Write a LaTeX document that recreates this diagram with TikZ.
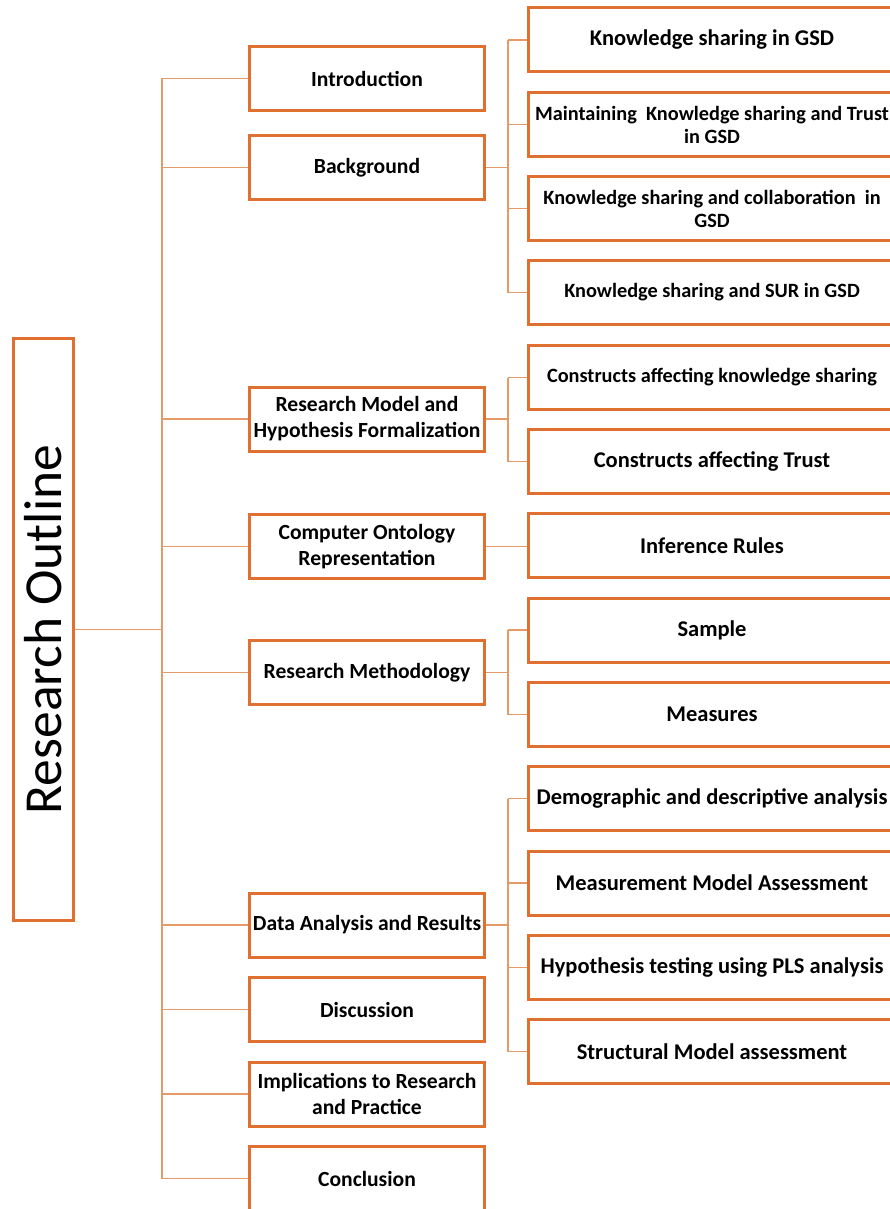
\documentclass[tikz,border=0pt]{standalone}
\usepackage{fontspec}
\setmainfont{Carlito}
\definecolor{boxc}{HTML}{E0702F}
\definecolor{linec}{HTML}{E69A68}
\begin{document}
\begin{tikzpicture}[x=1pt,y=-1pt,
  lone/.style={draw=boxc,line width=3pt,minimum width=235pt,minimum height=64pt,inner sep=0pt,align=center,font=\fontsize{21.6}{26}\selectfont\bfseries},
  ltwo/.style={lone,minimum width=367pt,font=\fontsize{22.5}{26}\selectfont\bfseries},
  small/.style={font=\fontsize{20.3}{23}\selectfont\bfseries},
  conn/.style={draw=linec,line width=1.5pt}]
\useasboundingbox (0,0) rectangle (889,1209);
% root
\node[draw=boxc,line width=3pt,minimum width=60pt,minimum height=582pt,inner sep=0pt,font=\fontsize{53.5}{60}\selectfont] (root) at (43.5,629.5) {\rotatebox{90}{Research Outline}};
% level 1
\node[lone] (intro) at (367,78.5) {Introduction};
\node[lone] (bg) at (367,167.5) {Background};
\node[lone] (rm) at (367,419) {Research Model and\\Hypothesis Formalization};
\node[lone] (co) at (367,546.5) {Computer Ontology\\Representation};
\node[lone] (meth) at (367,672.5) {Research Methodology};
\node[lone] (da) at (367,925) {Data Analysis and Results};
\node[lone] (disc) at (367,1009.5) {Discussion};
\node[lone] (impl) at (367,1094) {Implications to Research\\and Practice};
\node[lone] (concl) at (367,1178.5) {Conclusion};
% level 2
\node[ltwo] (k1) at (712,40) {Knowledge sharing in GSD};
\node[ltwo,small] (k2) at (712,124.5) {Maintaining\ \ Knowledge sharing and Trust\\in GSD};
\node[ltwo,small] (k3) at (712,208.5) {Knowledge sharing and collaboration\ \ in\\GSD};
\node[ltwo,small] (k4) at (712,292.5) {Knowledge sharing and SUR in GSD};
\node[ltwo,small] (c1) at (712,377.5) {Constructs affecting knowledge sharing};
\node[ltwo] (c2) at (712,461.5) {Constructs affecting Trust};
\node[ltwo] (inf) at (712,545.5) {Inference Rules};
\node[ltwo] (s1) at (712,630) {Sample};
\node[ltwo] (s2) at (712,714.5) {Measures};
\node[ltwo] (d1) at (712,798.5) {Demographic and descriptive analysis};
\node[ltwo] (d2) at (712,883) {Measurement Model Assessment};
\node[ltwo] (d3) at (712,967.5) {Hypothesis testing using PLS analysis};
\node[ltwo] (d4) at (712,1051.5) {Structural Model assessment};
% connectors
\coordinate (tk) at (162,0);
\coordinate (br) at (508,0);
\draw[conn] (root.east) -- (root.east -| tk);
\draw[conn] (intro.west -| tk) -- (concl.west -| tk);
\foreach \n in {intro,bg,rm,co,meth,da,disc,impl,concl}
  \draw[conn] (\n.west -| tk) -- (\n.west);
% Background bracket
\draw[conn] (bg.east) -- (bg.east -| br);
\draw[conn] (k1.west -| br) -- (k4.west -| br);
\foreach \n in {k1,k2,k3,k4} \draw[conn] (\n.west -| br) -- (\n.west);
% Research model bracket
\draw[conn] (rm.east) -- (rm.east -| br);
\draw[conn] (c1.west -| br) -- (c2.west -| br);
\foreach \n in {c1,c2} \draw[conn] (\n.west -| br) -- (\n.west);
% ontology
\draw[conn] (co.east) -- (co.east -| inf.west);
% methodology bracket
\draw[conn] (meth.east) -- (meth.east -| br);
\draw[conn] (s1.west -| br) -- (s2.west -| br);
\foreach \n in {s1,s2} \draw[conn] (\n.west -| br) -- (\n.west);
% data analysis bracket
\draw[conn] (da.east) -- (da.east -| br);
\draw[conn] (d1.west -| br) -- (d4.west -| br);
\foreach \n in {d1,d2,d3,d4} \draw[conn] (\n.west -| br) -- (\n.west);
\end{tikzpicture}
\end{document}
